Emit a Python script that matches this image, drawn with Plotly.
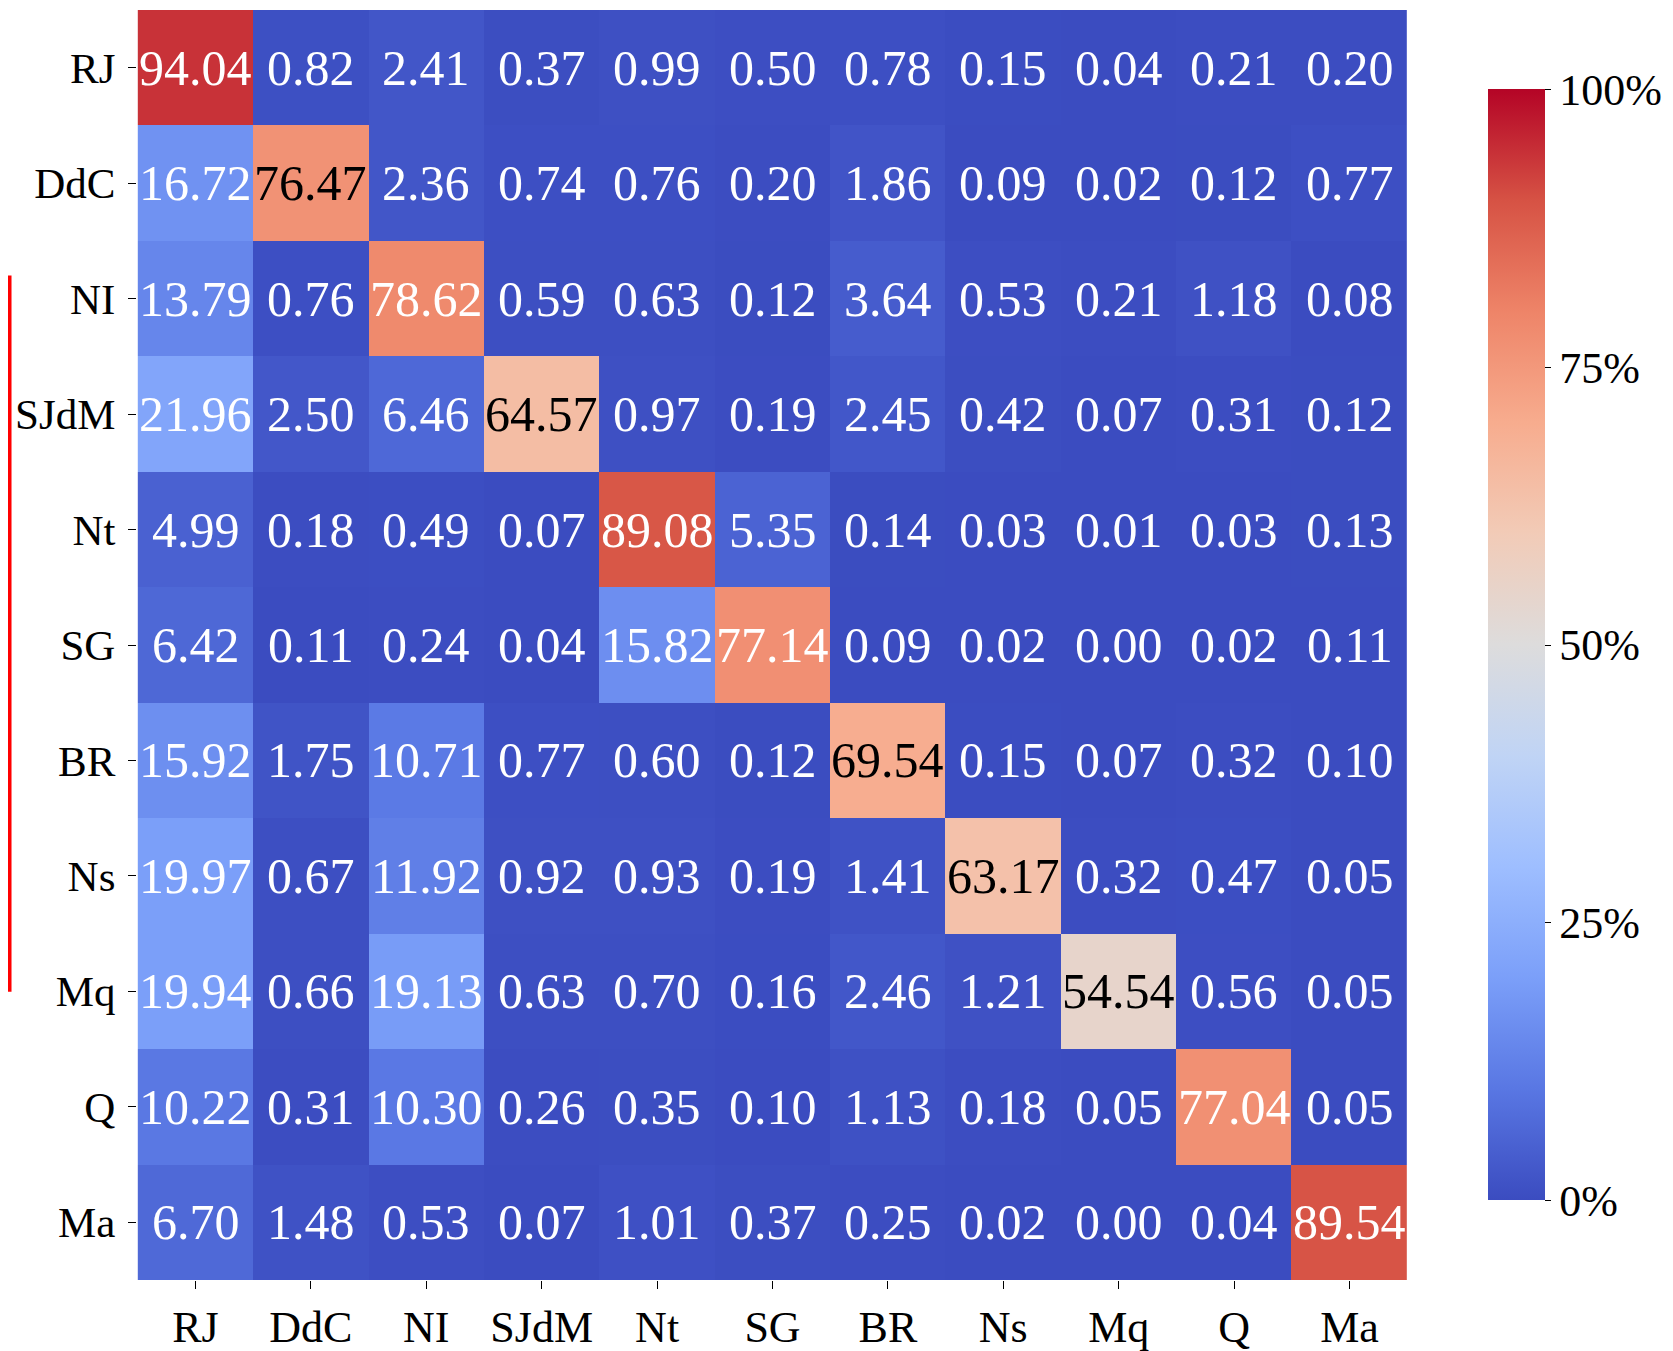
import plotly.graph_objects as go

labels = ["RJ", "DdC", "NI", "SJdM", "Nt", "SG", "BR", "Ns", "Mq", "Q", "Ma"]

row_RJ   = [94.04, 0.82, 2.41, 0.37, 0.99, 0.50, 0.78, 0.15, 0.04, 0.21, 0.20]
row_DdC  = [16.72, 76.47, 2.36, 0.74, 0.76, 0.20, 1.86, 0.09, 0.02, 0.12, 0.77]
row_NI   = [13.79, 0.76, 78.62, 0.59, 0.63, 0.12, 3.64, 0.53, 0.21, 1.18, 0.08]
row_SJdM = [21.96, 2.50, 6.46, 64.57, 0.97, 0.19, 2.45, 0.42, 0.07, 0.31, 0.12]
row_Nt   = [4.99, 0.18, 0.49, 0.07, 89.08, 5.35, 0.14, 0.03, 0.01, 0.03, 0.13]
row_SG   = [6.42, 0.11, 0.24, 0.04, 15.82, 77.14, 0.09, 0.02, 0.00, 0.02, 0.11]
row_BR   = [15.92, 1.75, 10.71, 0.77, 0.60, 0.12, 69.54, 0.15, 0.07, 0.32, 0.10]
row_Ns   = [19.97, 0.67, 11.92, 0.92, 0.93, 0.19, 1.41, 63.17, 0.32, 0.47, 0.05]
row_Mq   = [19.94, 0.66, 19.13, 0.63, 0.70, 0.16, 2.46, 1.21, 54.54, 0.56, 0.05]
row_Q    = [10.22, 0.31, 10.30, 0.26, 0.35, 0.10, 1.13, 0.18, 0.05, 77.04, 0.05]
row_Ma   = [6.70, 1.48, 0.53, 0.07, 1.01, 0.37, 0.25, 0.02, 0.00, 0.04, 89.54]

z = [row_RJ, row_DdC, row_NI, row_SJdM, row_Nt, row_SG, row_BR, row_Ns, row_Mq, row_Q, row_Ma]

cbar_vals = [0, 25, 50, 75, 100]
cbar_text = ["0%", "25%", "50%", "75%", "100%"]

coolwarm_hex = ['#3b4cc0', '#5977e3', '#7b9ff9', '#9ebeff', '#c0d4f5', '#dddcdc',
                '#f2cbb7', '#f7ac8e', '#ee8468', '#d65244', '#b40426']
colorscale = [[i / (len(coolwarm_hex) - 1), c] for i, c in enumerate(coolwarm_hex)]

FONT = "Liberation Serif, Times New Roman, serif"

fig = go.Figure()
fig.add_trace(go.Heatmap(
    z=z, x=labels, y=labels, zmin=0, zmax=100, colorscale=colorscale,
    xgap=0, ygap=0, hoverinfo="skip",
    colorbar=dict(
        tickvals=cbar_vals, ticktext=cbar_text, ticks="outside", ticklen=6,
        tickcolor="black", tickfont=dict(family=FONT, size=44, color="black"),
        thickness=57, len=0.875, lenmode="fraction", y=0.5, yanchor="middle",
        x=1.063, xanchor="left", outlinewidth=0, xpad=0, ypad=0,
    ),
))

annotations = []
for i, rl in enumerate(labels):
    for j, cl in enumerate(labels):
        v = z[i][j]
        col = "black" if 30 < v < 77 else "white"
        annotations.append(dict(
            x=cl, y=rl, text=f"{v:.2f}", showarrow=False,
            font=dict(family=FONT, size=50, color=col), xref="x", yref="y",
        ))

fig.update_layout(
    width=1665, height=1343,
    margin=dict(l=129, r=265, t=2, b=71, autoexpand=False),
    paper_bgcolor="white", plot_bgcolor="white",
    annotations=annotations,
    font=dict(family=FONT, color="black"),
    shapes=[dict(type="line", xref="paper", yref="paper",
                 x0=-0.1003, x1=-0.1003, y0=0.227, y1=0.791,
                 line=dict(color="red", width=4))],
)
fig.update_xaxes(ticks="outside", ticklen=8, tickcolor="black", showgrid=False,
                 tickfont=dict(family=FONT, size=44, color="black"), showline=False,
                 automargin=False)
fig.update_yaxes(autorange="reversed", ticks="outside", ticklen=8, tickcolor="black",
                 showgrid=False, tickfont=dict(family=FONT, size=43, color="black"),
                 showline=False, automargin=False, ticklabelstandoff=4)

fig.write_html("out.html")
